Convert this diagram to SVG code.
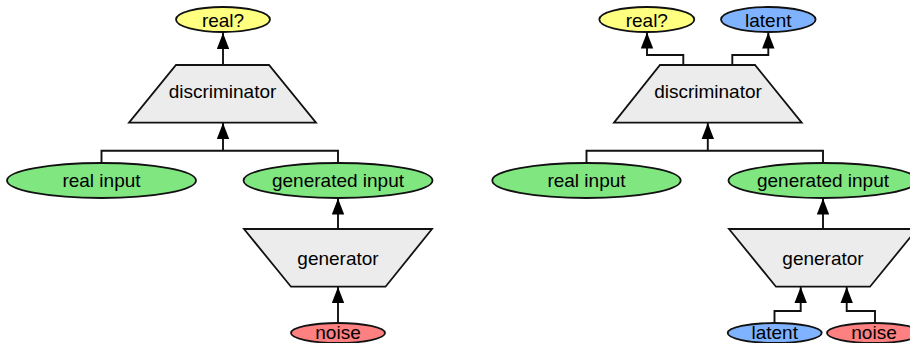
<svg xmlns="http://www.w3.org/2000/svg" width="910" height="343" viewBox="0 0 910 343">
<style>
.n{stroke:#111;stroke-width:1.8}
.y{fill:#ffff80}.g{fill:#80e680}.r{fill:#ff8080}.b{fill:#80b3ff}.t{fill:#ececec}
text{font-family:"Liberation Sans",Arial,sans-serif;font-size:19px;fill:#000;text-anchor:middle}
.e{fill:none;stroke:#111;stroke-width:1.9}
</style>
<defs>
<marker id="ah" markerUnits="userSpaceOnUse" markerWidth="17" markerHeight="13" refX="16" refY="6.5" orient="auto">
<path d="M0,0.3 L16,6.5 L0,12.7 z" fill="#000"/>
</marker>
</defs>
<g id="connectors">
<path class="e" d="M223,65 V33" marker-end="url(#ah)"/>
<path class="e" d="M101.5,163 V150.7 H338 V163 M223,150.7 V123" marker-end="url(#ah)"/>
<path class="e" d="M338,229 V198.5" marker-end="url(#ah)"/>
<path class="e" d="M338,323 V287" marker-end="url(#ah)"/>
<path class="e" d="M683.3,65 V55 H647 V32.5" marker-end="url(#ah)"/>
<path class="e" d="M732.3,65 V55 H768.3 V32.5" marker-end="url(#ah)"/>
<path class="e" d="M586.5,163 V150.7 H823 V163 M707.8,150.7 V123" marker-end="url(#ah)"/>
<path class="e" d="M823,229 V198.5" marker-end="url(#ah)"/>
<path class="e" d="M774.5,323 V311 H800.7 V287" marker-end="url(#ah)"/>
<path class="e" d="M875,323 V311 H846.7 V287" marker-end="url(#ah)"/>
</g>
<g id="l_real">
<ellipse class="n y" cx="223" cy="19.5" rx="47" ry="12.5"/>
<text x="223" y="26.7">real?</text>
</g>
<g id="l_disc">
<polygon class="n t" points="176,65 269,65 316,122.7 129,122.7"/>
<text x="222.5" y="97.7">discriminator</text>
</g>
<g id="l_realin">
<ellipse class="n g" cx="101.5" cy="180.5" rx="94.5" ry="17.5"/>
<text x="101.5" y="186.7">real input</text>
</g>
<g id="l_genin">
<ellipse class="n g" cx="338" cy="180.5" rx="94.5" ry="17.5"/>
<text x="338" y="186.7">generated input</text>
</g>
<g id="l_gen">
<polygon class="n t" points="244,229 432,229 385.5,286.7 291,286.7"/>
<text x="338" y="264.5">generator</text>
</g>
<g id="l_noise">
<ellipse class="n r" cx="338" cy="333" rx="47" ry="10"/>
<text x="338" y="338.5">noise</text>
</g>
<g id="r_real">
<ellipse class="n y" cx="646.8" cy="19.5" rx="47.5" ry="12.5"/>
<text x="646.8" y="26.7">real?</text>
</g>
<g id="r_latent">
<ellipse class="n b" cx="768.3" cy="19.5" rx="47.3" ry="12.5"/>
<text x="768.3" y="26.7">latent</text>
</g>
<g id="r_disc">
<polygon class="n t" points="660,65 755,65 801.7,122.7 614,122.7"/>
<text x="708" y="97.7">discriminator</text>
</g>
<g id="r_realin">
<ellipse class="n g" cx="586.5" cy="180.5" rx="94.2" ry="17.5"/>
<text x="586.5" y="186.7">real input</text>
</g>
<g id="r_genin">
<ellipse class="n g" cx="823" cy="180.5" rx="94.5" ry="17.5"/>
<text x="823" y="186.7">generated input</text>
</g>
<g id="r_gen">
<polygon class="n t" points="729,229 917,229 870,286.7 776,286.7"/>
<text x="823" y="264.5">generator</text>
</g>
<g id="r_latent2">
<ellipse class="n b" cx="774.7" cy="333" rx="47" ry="10"/>
<text x="774.7" y="338.5">latent</text>
</g>
<g id="r_noise">
<ellipse class="n r" cx="874" cy="333" rx="47" ry="10"/>
<text x="874" y="338.5">noise</text>
</g>
</svg>
